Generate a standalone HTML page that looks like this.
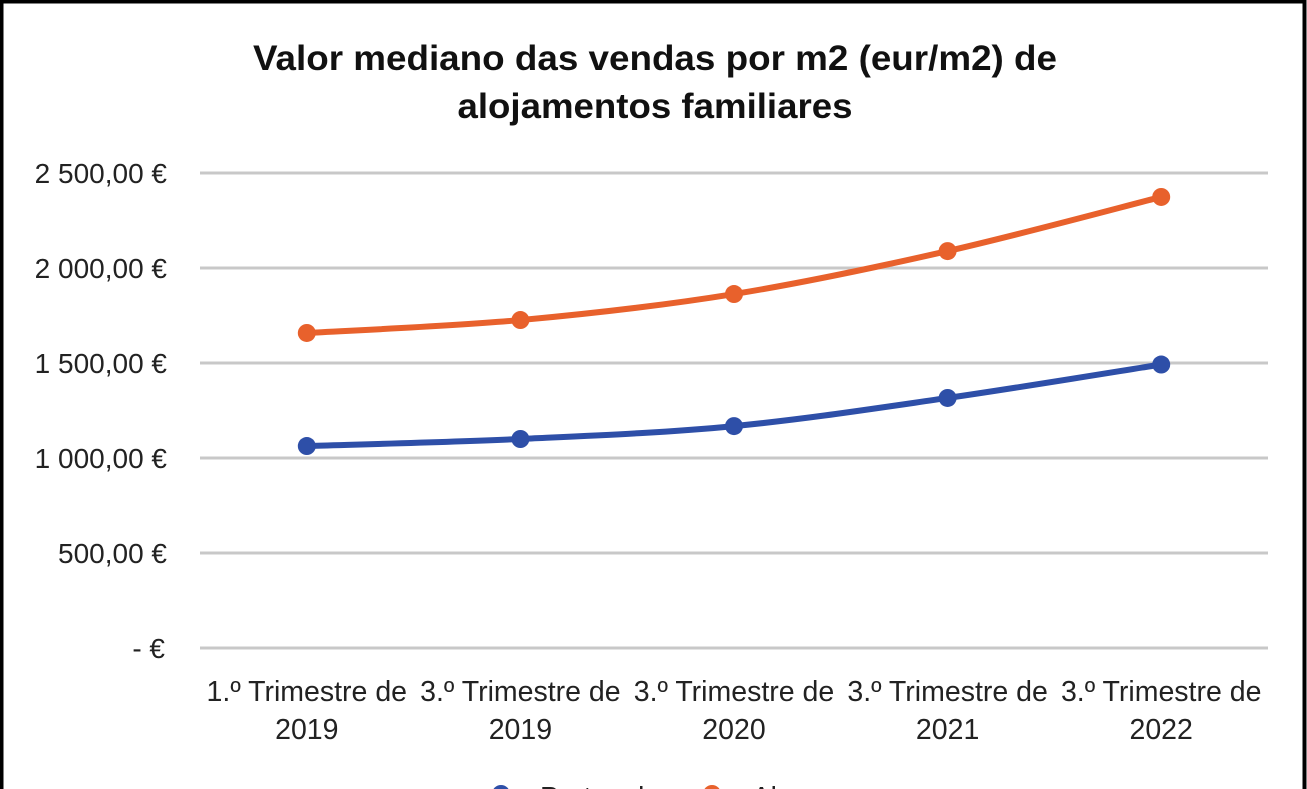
<!DOCTYPE html>
<html><head><meta charset="utf-8"><style>
html,body{margin:0;padding:0;background:#fff;}
svg{display:block;font-family:"Liberation Sans",sans-serif;}
</style></head><body>
<svg id="chart" width="1307" height="789" viewBox="0 0 1307 789">
<rect x="1.5" y="1.5" width="1303" height="800" fill="#fff" stroke="#000" stroke-width="4"/>
<text x="655" y="70" text-anchor="middle" font-size="35" font-weight="bold" fill="#111" textLength="804" lengthAdjust="spacingAndGlyphs">Valor mediano das vendas por m2 (eur/m2) de</text>
<text x="655" y="118" text-anchor="middle" font-size="35" font-weight="bold" fill="#111" textLength="395" lengthAdjust="spacingAndGlyphs">alojamentos familiares</text>
<g id="grid"></g><g id="yticks"></g><g id="xticks"></g><g id="series"></g>
<g>
<g>
<line x1="482" y1="794" x2="520" y2="794" stroke="#2e4fa8" stroke-width="5"/>
<circle cx="501" cy="794" r="9" fill="#2e4fa8"/>
<text x="540" y="806" font-size="28" fill="#222">Portugal</text></g>
<g>
<line x1="693" y1="794" x2="731" y2="794" stroke="#e8612c" stroke-width="5"/>
<circle cx="712" cy="794" r="9" fill="#e8612c"/>
<text x="752" y="806" font-size="28" fill="#222">Algarve</text></g>
</g>
</svg>
<script>
const categories=["1.º Trimestre de|2019","3.º Trimestre de|2019","3.º Trimestre de|2020","3.º Trimestre de|2021","3.º Trimestre de|2022"];
const portugal=[1063,1100,1168,1316,1492];
const algarve=[1658,1726,1863,2089,2374];
const yTicks=[0,500,1000,1500,2000,2500];
const yTickLabels=["-  €","500,00 €","1 000,00 €","1 500,00 €","2 000,00 €","2 500,00 €"];
const NS="http://www.w3.org/2000/svg";
const x0=200,x1=1268,y0=648,yTop=173;
const xs=i=>x0+(x1-x0)/categories.length*(i+0.5);
const ys=v=>y0-(y0-yTop)*v/2500;
function mk(t,a,p){const e=document.createElementNS(NS,t);for(const k in a)e.setAttribute(k,a[k]);p.appendChild(e);return e;}
const g=document.getElementById('grid'),yt=document.getElementById('yticks'),xt=document.getElementById('xticks'),sr=document.getElementById('series');
yTicks.forEach((v,i)=>{
 const l=mk('line',{x1:x0,x2:x1,y1:ys(v),y2:ys(v),stroke:'#c8c8c8','stroke-width':3},g);
 
 
 const t=mk('text',{x:v===0?165:167,y:ys(v)+10,'text-anchor':'end','font-size':28,fill:'#222'},yt);
 t.textContent=yTickLabels[i];
 
 
});
categories.forEach((c,i)=>{
 const parts=c.split('|');
 parts.forEach((p,j)=>{
  const t=mk('text',{x:xs(i),y:701+j*38,'text-anchor':'middle','font-size':28.5,fill:'#222'},xt);
  t.textContent=p;
  
  
 });
});
function drawSeries(data,color,name){
 const pts=data.map((v,i)=>[xs(i),ys(v)]);
 let d='M'+pts[0][0]+','+pts[0][1];
 for(let i=0;i<pts.length-1;i++){
  const p0=pts[Math.max(i-1,0)],p1=pts[i],p2=pts[i+1],p3=pts[Math.min(i+2,pts.length-1)];
  const c1=[p1[0]+(p2[0]-p0[0])/6,p1[1]+(p2[1]-p0[1])/6],c2=[p2[0]-(p3[0]-p1[0])/6,p2[1]-(p3[1]-p1[1])/6];
  d+=' C'+c1+' '+c2+' '+p2;
 }
 const path=mk('path',{d:d,fill:'none',stroke:color,'stroke-width':6,'stroke-linecap':'round'},sr);
 
 
 pts.forEach(p=>{
  const c=mk('circle',{cx:p[0],cy:p[1],r:9,fill:color},sr);
  
  
 });
}
drawSeries(portugal,'#2e4fa8','portugal');
drawSeries(algarve,'#e8612c','algarve');
</script>
</body></html>
